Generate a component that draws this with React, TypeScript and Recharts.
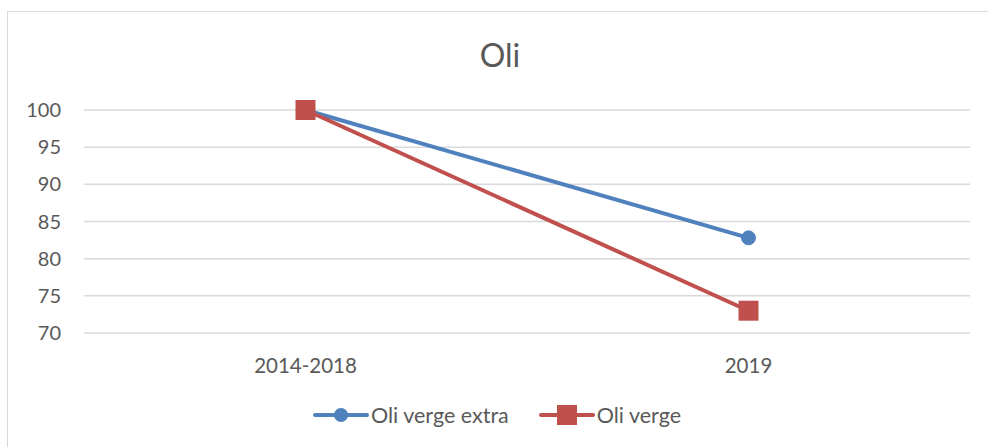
import { LineChart, Line, XAxis, YAxis, CartesianGrid, Legend } from "recharts";

const categories = ["2014-2018", "2019"];
const oliVergeExtra = [100, 82.8];
const oliVerge = [100, 73];
const yTicks = [70, 75, 80, 85, 90, 95, 100];

const BLUE = "#4f81bd";
const RED = "#c0504d";
const TEXT = "#595959";
const FONT = "Lato, 'Open Sans', sans-serif";

const data = categories.map((cat, i) => ({
  cat,
  extra: oliVergeExtra[i],
  verge: oliVerge[i],
}));

const SquareDot = (props: any) => {
  const { cx, cy, key } = props;
  if (cx == null || cy == null) return null;
  return <rect key={key} x={cx - 10} y={cy - 10} width={20} height={20} fill={RED} />;
};

const LegendContent = () => {
  const items = [
    { label: "Oli verge extra", color: BLUE, shape: "circle" },
    { label: "Oli verge", color: RED, shape: "square" },
  ];
  return (
    <div style={{ display: "flex", justifyContent: "center", height: 30, alignItems: "center", gap: 30 }}>
      {items.map((it) => (
        <div key={it.label} style={{ display: "flex", alignItems: "center" }}>
          <svg width={56} height={20}>
            <line x1={2} y1={10} x2={54} y2={10} stroke={it.color} strokeWidth={4} strokeLinecap="round" />
            {it.shape === "circle" ? (
              <circle cx={28} cy={10} r={7} fill={it.color} />
            ) : (
              <rect x={18} y={0} width={20} height={20} fill={it.color} />
            )}
          </svg>
          <span style={{ fontFamily: FONT, fontSize: 21.5, color: TEXT, marginLeft: 2 }}>{it.label}</span>
        </div>
      ))}
    </div>
  );
};

export default function App() {
  return (
    <div style={{ position: "absolute", left: 0, top: 0, width: 988, height: 447, background: "#fff", overflow: "hidden" }}>
      <div
        style={{
          position: "absolute",
          left: 7,
          top: 11,
          width: 1000,
          height: 450,
          border: "1px solid #d9d9d9",
          boxSizing: "border-box",
        }}
      />
      <div
        style={{
          position: "absolute",
          left: 0,
          top: 35,
          width: 1000,
          textAlign: "center",
          fontFamily: FONT,
          fontSize: 32,
          color: TEXT,
          lineHeight: "40px",
        }}
      >
        Oli
      </div>
      <div style={{ position: "absolute", left: 0, top: 0 }}>
        <LineChart width={988} height={447} data={data} margin={{ top: 110, right: 18, bottom: 17, left: 24 }}>
          <CartesianGrid vertical={false} stroke="#d9d9d9" strokeWidth={1.5} />
          <XAxis
            dataKey="cat"
            scale="band"
            axisLine={false}
            tickLine={false}
            tickSize={0}
            tickMargin={25}
            height={67}
            tick={{ fontSize: 20.5, fill: TEXT, fontFamily: FONT }}
          />
          <YAxis
            domain={[70, 100]}
            ticks={yTicks}
            axisLine={false}
            tickLine={false}
            tickSize={0}
            tickMargin={23}
            width={60}
            tick={{ fontSize: 20, fill: TEXT, fontFamily: FONT }}
          />
          <Legend verticalAlign="bottom" content={<LegendContent />} />
          <Line
            dataKey="extra"
            name="Oli verge extra"
            stroke={BLUE}
            strokeWidth={4}
            dot={{ r: 7, fill: BLUE, stroke: BLUE, strokeWidth: 1 }}
            isAnimationActive={false}
          />
          <Line
            dataKey="verge"
            name="Oli verge"
            stroke={RED}
            strokeWidth={4}
            dot={<SquareDot />}
            isAnimationActive={false}
          />
        </LineChart>
      </div>
    </div>
  );
}
